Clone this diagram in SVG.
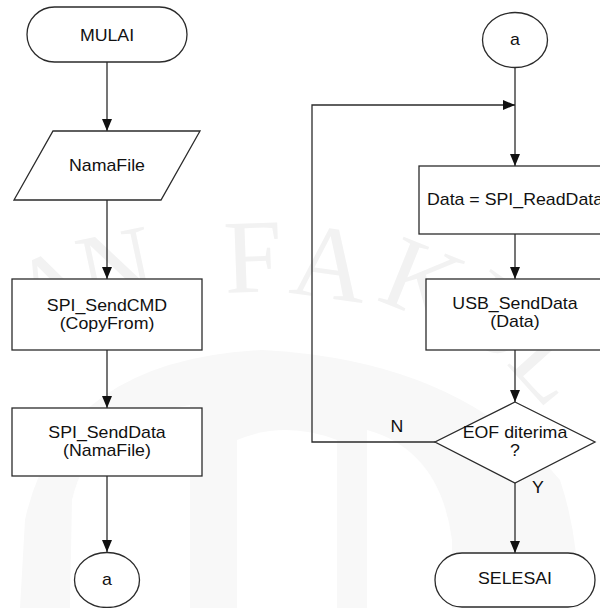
<svg xmlns="http://www.w3.org/2000/svg" width="600" height="608" viewBox="0 0 600 608">
  <style>
    .shape { fill: #ffffff; stroke: #2b2b2b; stroke-width: 1.3; }
    .wire { fill: none; stroke: #2b2b2b; stroke-width: 1.3; }
    .t { font-family: "Liberation Sans", Arial, sans-serif; font-size: 16px; fill: #111111; text-anchor: middle; }
    .wm { font-family: "Liberation Serif", "Times New Roman", serif; font-size: 105px; fill: #f2f2f2; text-anchor: middle; }
    .wmshape { fill: #f8f8f8; }
    .wmcut { fill: #ffffff; }
  </style>
  <defs>
    <marker id="arrow" viewBox="0 0 12 10" refX="12" refY="5" markerWidth="12" markerHeight="10" markerUnits="userSpaceOnUse" orient="auto">
      <path d="M0,0 L12,5 L0,10 Z" fill="#111111"/>
    </marker>
  </defs>

  <rect width="600" height="608" fill="#ffffff"/>

  <!-- faint background emblem -->
  <g id="watermark">
    <path class="wmshape" d="M20 608 L25 520 Q60 360 262 350 Q460 360 560 480 Q580 540 578 608 Z"/>
    <path class="wmcut" d="M70 608 L72 500 Q90 420 190 405 L190 608 Z"/>
    <path class="wmcut" d="M237 608 L237 440 Q285 420 337 440 L337 608 Z"/>
    <path class="wmcut" d="M367 608 L367 430 Q440 450 452 540 L452 608 Z"/>
    <g transform="translate(52,290) rotate(-25)"><text class="wm" x="0" y="34">A</text></g>
    <g transform="translate(116,268) rotate(-12)"><text class="wm" x="0" y="34">N</text></g>
    <g transform="translate(253,258) rotate(-2)"><text class="wm" x="0" y="34">F</text></g>
    <g transform="translate(330,264) rotate(8)"><text class="wm" x="0" y="34">A</text></g>
    <g transform="translate(423,282) rotate(22)"><text class="wm" x="0" y="34">K</text></g>
    <g transform="translate(500,318) rotate(35)"><text class="wm" x="0" y="34">U</text></g>
    <g transform="translate(552,364) rotate(48)"><text class="wm" x="0" y="34">L</text></g>
  </g>

  <!-- connectors -->
  <g id="connectors">
    <path class="wire" d="M107 62 L107 131" marker-end="url(#arrow)"/>
    <path class="wire" d="M107 200 L107 279" marker-end="url(#arrow)"/>
    <path class="wire" d="M107 350 L107 408" marker-end="url(#arrow)"/>
    <path class="wire" d="M107 476 L107 552" marker-end="url(#arrow)"/>
    <path class="wire" d="M515 67.5 L515 166" marker-end="url(#arrow)"/>
    <path class="wire" d="M435 442 L312 442 L312 105 L515 105" marker-end="url(#arrow)"/>
    <path class="wire" d="M515 234 L515 279" marker-end="url(#arrow)"/>
    <path class="wire" d="M515 350 L515 402" marker-end="url(#arrow)"/>
    <path class="wire" d="M515 483 L515 553" marker-end="url(#arrow)"/>
    <g transform="translate(397,432) scale(1.11,1)"><text class="t" x="0" y="0">N</text></g>
    <g transform="translate(538,493) scale(1.11,1)"><text class="t" x="0" y="0">Y</text></g>
  </g>

  <!-- left column -->
  <g id="mulai">
    <rect class="shape" x="27" y="7" width="160" height="55" rx="27.5" ry="27.5"/>
    <g transform="translate(107,40.5) scale(1.11,1)"><text class="t" x="0" y="0">MULAI</text></g>
  </g>
  <g id="namafile">
    <polygon class="shape" points="53,131 200,131 161,200 14,200"/>
    <g transform="translate(107,171) scale(1.11,1)"><text class="t" x="0" y="0">NamaFile</text></g>
  </g>
  <g id="sendcmd">
    <rect class="shape" x="12" y="279" width="190" height="71"/>
    <g transform="translate(107,311) scale(1.11,1)"><text class="t" x="0" y="0">SPI_SendCMD</text></g>
    <g transform="translate(107,329) scale(1.11,1)"><text class="t" x="0" y="0">(CopyFrom)</text></g>
  </g>
  <g id="senddata">
    <rect class="shape" x="12" y="408" width="190" height="68"/>
    <g transform="translate(107,438) scale(1.11,1)"><text class="t" x="0" y="0">SPI_SendData</text></g>
    <g transform="translate(107,456) scale(1.11,1)"><text class="t" x="0" y="0">(NamaFile)</text></g>
  </g>
  <g id="connector-out">
    <ellipse class="shape" cx="107" cy="580" rx="32.5" ry="27.5"/>
    <g transform="translate(107,585) scale(1.11,1)"><text class="t" x="0" y="0">a</text></g>
  </g>

  <!-- right column -->
  <g id="connector-in">
    <ellipse class="shape" cx="515" cy="40" rx="32.5" ry="27.5"/>
    <g transform="translate(515,44.5) scale(1.11,1)"><text class="t" x="0" y="0">a</text></g>
  </g>
  <g id="readdata">
    <rect class="shape" x="419" y="166" width="192" height="68"/>
    <g transform="translate(515,205) scale(1.11,1)"><text class="t" x="0" y="0">Data = SPI_ReadData</text></g>
  </g>
  <g id="usbsend">
    <rect class="shape" x="426" y="279" width="178" height="71"/>
    <g transform="translate(515,309) scale(1.11,1)"><text class="t" x="0" y="0">USB_SendData</text></g>
    <g transform="translate(515,327) scale(1.11,1)"><text class="t" x="0" y="0">(Data)</text></g>
  </g>
  <g id="eof">
    <polygon class="shape" points="515,402 595,442 515,483 435,442"/>
    <g transform="translate(515,438) scale(1.11,1)"><text class="t" x="0" y="0">EOF diterima</text></g>
    <g transform="translate(515,456) scale(1.11,1)"><text class="t" x="0" y="0">?</text></g>
  </g>
  <g id="selesai">
    <rect class="shape" x="435" y="553" width="160" height="54" rx="27" ry="27"/>
    <g transform="translate(515,583.5) scale(1.11,1)"><text class="t" x="0" y="0">SELESAI</text></g>
  </g>
</svg>
